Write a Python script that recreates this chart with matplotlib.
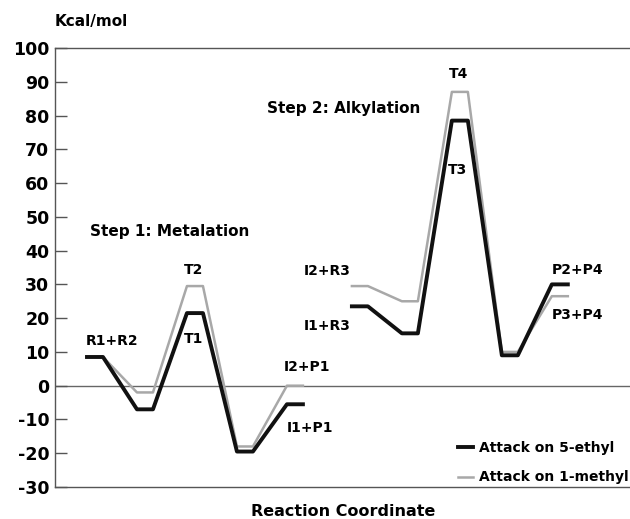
import matplotlib
matplotlib.use('Agg')
import matplotlib.pyplot as plt
import numpy as np

plt.rcParams['font.family'] = 'DejaVu Sans'
plt.rcParams['font.weight'] = 'bold'
plt.rcParams['axes.unicode_minus'] = False

# stage positions along the reaction coordinate
step1_pos = [1, 2, 3, 4, 5]
step2_pos = [6.3, 7.3, 8.3, 9.3, 10.3]

# energies (kcal/mol)
ethyl_step1 = [8.5, -7, 21.5, -19.5, -5.5]
ethyl_step2 = [23.5, 15.5, 78.5, 9, 30]
methyl_step1 = [8.5, -2, 29.5, -18, 0]
methyl_step2 = [29.5, 25, 87, 10, 26.5]

# state labels: (text, x, y)
labels = [
    ('R1+R2', 1.35, 13.1),
    ('T2', 2.97, 34.4),
    ('T1', 2.97, 13.7),
    ('I2+P1', 5.25, 5.5),
    ('I1+P1', 5.3, -12.6),
    ('I2+R3', 5.65, 34),
    ('I1+R3', 5.65, 17.6),
    ('T4', 8.27, 92.3),
    ('T3', 8.25, 64),
    ('P2+P4', 10.65, 34.4),
    ('P3+P4', 10.65, 20.8),
]

half = 0.16


def profile(pos, energy):
    xs, ys = [], []
    for p, e in zip(pos, energy):
        xs += [p - half, p + half]
        ys += [e, e]
    return xs, ys


fig = plt.figure(figsize=(6.3, 5.19), dpi=100)
ax = fig.add_axes([55 / 630, 32 / 519, 1 - 55 / 630 + 0.01, 439 / 519])

ax.axhline(0, color='#666666', lw=1, zorder=1)

for pos, e in [(step1_pos, methyl_step1), (step2_pos, methyl_step2)]:
    x, y = profile(pos, e)
    ax.plot(x, y, color='#a8a8a8', lw=1.8, zorder=2,
            label='Attack on 1-methyl' if pos is step1_pos else None)
for pos, e in [(step1_pos, ethyl_step1), (step2_pos, ethyl_step2)]:
    x, y = profile(pos, e)
    ax.plot(x, y, color='#111111', lw=2.8, zorder=3,
            label='Attack on 5-ethyl' if pos is step1_pos else None)

for txt, x, y in labels:
    ax.text(x, y, txt, ha='center', va='center', fontsize=10, fontweight='bold')

ax.text(0.9, 45.8, 'Step 1: Metalation', ha='left', va='center',
        fontsize=11, fontweight='bold')
ax.text(4.45, 82.1, 'Step 2: Alkylation', ha='left', va='center',
        fontsize=11, fontweight='bold')

ax.set_xlim(0.2, 11.83)
ax.set_ylim(-30, 100)
ax.set_yticks(np.arange(-30, 101, 10))
ax.set_xticks([])
ax.tick_params(axis='y', direction='in', length=8.5, width=1, color='#555555',
               labelsize=12.5, pad=4)
for lab in ax.get_yticklabels():
    lab.set_fontweight('bold')
ax.spines['right'].set_visible(False)
for s in ['left', 'top', 'bottom']:
    ax.spines[s].set_color('#555555')
    ax.spines[s].set_linewidth(1)

handles, names = ax.get_legend_handles_labels()
order = [1, 0]
leg = ax.legend([handles[i] for i in order], [names[i] for i in order],
                loc='center left', bbox_to_anchor=(0.693, 0.055),
                frameon=False, fontsize=10, handlelength=1.1,
                handletextpad=0.4, labelspacing=1.1, borderpad=0,
                borderaxespad=0)
for t in leg.get_texts():
    t.set_fontweight('bold')

fig.text(55 / 630, 1 - 22 / 519, 'Kcal/mol', ha='left', va='center',
         fontsize=11, fontweight='bold')
fig.text(343 / 630, 1 - 512 / 519, 'Reaction Coordinate', ha='center',
         va='center', fontsize=11.5, fontweight='bold')

fig.savefig('out.png', dpi=100)
